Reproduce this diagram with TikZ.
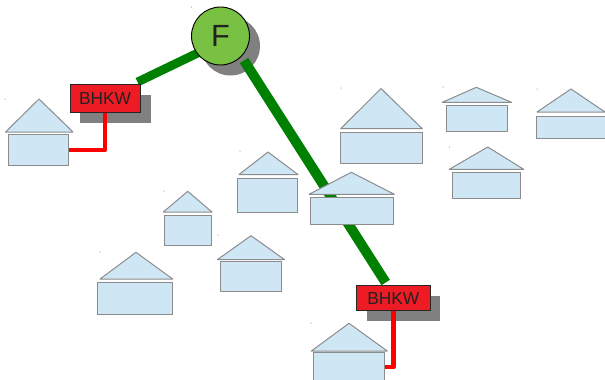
\documentclass[tikz,border=0pt]{standalone}
\usepackage{fontspec}
\usetikzlibrary{backgrounds}
\setmainfont{Liberation Sans}
\definecolor{hfill}{HTML}{CFE6F5}
\definecolor{hline}{HTML}{8C8C8C}
\definecolor{bred}{HTML}{ED1C24}
\definecolor{pgreen}{HTML}{008000}
\definecolor{fgreen}{HTML}{78C142}
\definecolor{shadowgrey}{HTML}{808080}
\definecolor{ink}{HTML}{222222}
\tikzset{
  roofshape/.style={draw=hline,fill=hfill,line width=0.75pt,line join=round},
  bodyshape/.style={draw=hline,fill=hfill,line width=0.75pt},
  shadowbox/.style={fill=shadowgrey},
  bhkw/.style={draw=black!85,fill=bred,line width=0.7pt,text=ink,font=\fontsize{13pt}{15pt}\selectfont,inner sep=0pt},
  fernwaerme/.style={circle,draw=black,fill=fgreen,line width=0.7pt,minimum size=43.5pt,inner sep=0pt,text=ink,font=\fontsize{23pt}{25pt}\selectfont},
  pipe/.style={draw=pgreen,line width=6.6pt},
  feed/.style={draw=red,line width=3.4pt,line join=round},
  speck/.style={fill=black!60}
}
\newcommand{\hs}[9]{%
  \fill[speck] (#9) circle[radius=0.5];
  \draw[roofshape] (#1,#3) -- (#2,#3) -- (#4) -- cycle;
  \draw[bodyshape] (#5,#6) rectangle (#7,#8);
}
\begin{document}
\begin{tikzpicture}[x=0.75pt,y=-0.75pt]
\useasboundingbox (0,0) rectangle (605,379);
\clip (0,0) rectangle (605,379);
% nodes
\node[fernwaerme] (F) at (220.5,36) {F};
\node[bhkw,minimum width=52.5pt,minimum height=21pt] (B1) at (105,98.5) {BHKW};
\node[bhkw,minimum width=55pt,minimum height=18.8pt] (B2) at (393.3,298.3) {BHKW};
\coordinate (H1) at (68.5,150);
\coordinate (H2) at (384,367);
\coordinate (P1) at (137.5,82);
\coordinate (P1e) at (205,49.5);
\coordinate (P2) at (385.7,282.5);
\coordinate (P2e) at (244,60.5);
\begin{scope}[on background layer]
\fill[shadowgrey] (230.5,46) circle[radius=29.5];
\fill[shadowbox] (80,94.5) rectangle (150.5,122.5);
\fill[shadowbox] (366.7,295.5) rectangle (440,321);
\draw[pipe] (P1) -- (P1e);
\draw[pipe,line width=7.5pt] (P2) -- (P2e);
\draw[feed] (B1.south) -- (B1.south |- H1) -- (H1);
\draw[feed] (B2.south) -- (B2.south |- H2) -- (H2);
\end{scope}
% houses
\hs{5.5}{73}{132}{39,99}{8.5}{134.5}{68.5}{165.5}{5,99}
\hs{239}{298}{174.5}{268,152}{237.7}{178}{297.5}{212}{240,151}
\hs{340.7}{422.3}{128.7}{381,88.5}{340}{132.7}{422.5}{163.3}{341,88}
\hs{442.3}{511.5}{102.3}{476.3,87.3}{446.3}{105.3}{507.7}{131.7}{443,87}
\hs{537}{605}{112}{571,89}{536.5}{116}{607}{138}{537,89}
\hs{449.3}{523.7}{169.3}{487.7,147}{452.3}{172.3}{520.7}{198.3}{449.5,147}
\hs{309}{394.3}{194.3}{351.3,172.3}{310.3}{197}{393}{224.3}{310,172}
\hs{163.3}{212}{212}{187.7,191.3}{164.3}{215}{211.7}{245.3}{164,191}
\hs{217.3}{284.7}{259.7}{251,235.7}{220}{261.7}{281.7}{291}{218,235}
\hs{100}{172.7}{279}{136,252.3}{97.3}{282.3}{172}{314}{100,252}
\hs{311.3}{387.3}{351}{349,323.3}{313.3}{352.3}{384.3}{381}{311,323}
\fill[speck] (191.7,7) circle[radius=0.5];
\end{tikzpicture}
\end{document}
